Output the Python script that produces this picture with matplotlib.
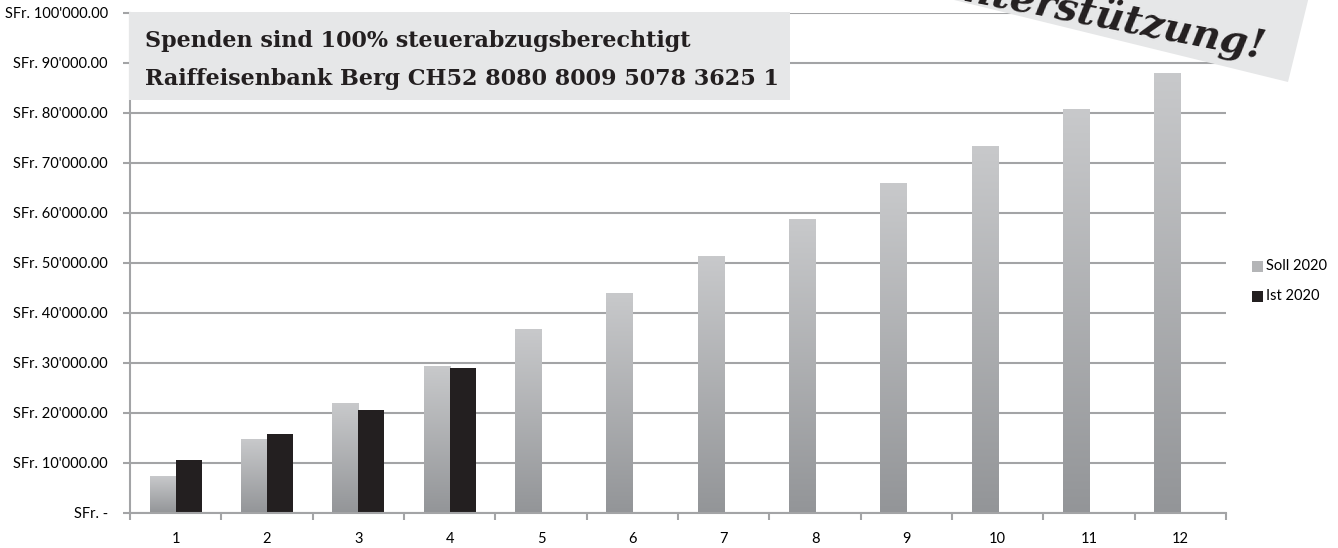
"""Soll/Ist Spendenstand 2020 als gruppiertes Balkendiagramm."""

import matplotlib
matplotlib.use("Agg")
import matplotlib.pyplot as plt
import numpy as np
from matplotlib.colors import LinearSegmentedColormap
from matplotlib.patches import Polygon, Rectangle
from matplotlib.ticker import FuncFormatter

months = list(range(1, 13))
soll_2020 = [7333, 14667, 22000, 29333, 36667, 44000, 51333, 58667, 66000, 73333, 80667, 88000]
ist_2020 = [10600, 15800, 20600, 29000]
series_names = ["Soll 2020", "Ist 2020"]
box_lines = [
    "Spenden sind 100% steuerabzugsberechtigt",
    "Raiffeisenbank Berg CH52 8080 8009 5078 3625 1",
]
banner_text = "Herzlichen Dank für Ihre Unterstützung!"

W, H = 1338, 548
plt.rcParams["font.family"] = ["Lato", "DejaVu Sans"]

fig = plt.figure(figsize=(W / 100, H / 100), dpi=100)
ax = fig.add_axes([130 / W, 35 / H, 1096 / W, 500 / H])

grid_col = "#a3a4a6"
soll_cmap = LinearSegmentedColormap.from_list("soll", ["#939598", "#c8c9cb"])
ist_col = "#231f20"
bw = 0.285

# Soll bars with a vertical grey gradient, Ist bars solid
grad = np.linspace(0, 1, 256).reshape(-1, 1)
for m, v in zip(months, soll_2020):
    ax.imshow(grad, extent=(m - bw, m, 0, v), aspect="auto", cmap=soll_cmap,
              origin="lower", zorder=2, interpolation="bilinear")
ax.bar([m + bw / 2 for m in months[:len(ist_2020)]], ist_2020, width=bw,
       color=ist_col, zorder=2)

ax.set_xlim(0.5, 12.5)
ax.set_ylim(0, 100000)
ax.set_yticks(np.arange(0, 100001, 10000))
ax.yaxis.set_major_formatter(FuncFormatter(
    lambda v, p: "SFr. -" if v == 0 else "SFr. " + f"{v:,.2f}".replace(",", "'")))
ax.set_xticks(months)
ax.set_xticks(np.arange(0.5, 13, 1), minor=True)
ax.tick_params(axis="x", which="major", length=0, pad=14, labelsize=10.5)
ax.tick_params(axis="x", which="minor", length=5, color=grid_col, width=1.5)
ax.tick_params(axis="y", length=5, color=grid_col, width=1.5, labelsize=10.5, pad=11)
ax.grid(axis="y", color=grid_col, linewidth=1.5, zorder=1)
ax.set_axisbelow(True)
for s in ["top", "right"]:
    ax.spines[s].set_visible(False)
for s in ["left", "bottom"]:
    ax.spines[s].set_color(grid_col)
    ax.spines[s].set_linewidth(1.5)

# legend
fig.patches.append(Rectangle((1252 / W, (548 - 272) / H), 11 / W, 11 / H,
                             transform=fig.transFigure, facecolor="#b4b5b7"))
fig.patches.append(Rectangle((1252 / W, (548 - 302) / H), 11 / W, 11 / H,
                             transform=fig.transFigure, facecolor=ist_col))
fig.text(1266 / W, (548 - 266) / H, series_names[0], va="center", fontsize=10.5)
fig.text(1266 / W, (548 - 296) / H, series_names[1], va="center", fontsize=10.5)

# info box top left
fig.patches.append(Rectangle((129 / W, (548 - 100) / H), 661 / W, 88 / H,
                             transform=fig.transFigure, facecolor="#e6e7e8", zorder=5))
fig.text(145 / W, (548 - 47) / H, box_lines[0], family="DejaVu Serif",
         weight="bold", fontsize=16, color="#231f20", zorder=6)
fig.text(145 / W, (548 - 85) / H, box_lines[1], family="DejaVu Serif",
         weight="bold", fontsize=16, color="#231f20", zorder=6)

# rotated thank-you banner top right
ang = np.deg2rad(13.8)
along = np.array([np.cos(ang), np.sin(ang)])      # image coords (y down)
up = np.array([np.sin(ang), -np.cos(ang)])
br = np.array([1288.0, 82.0])
bl = br - 900 * along
tr = br + 200 * up
tl = bl + 200 * up
pts = [(p[0] / W, (H - p[1]) / H) for p in [bl, br, tr, tl]]
fig.patches.append(Polygon(pts, closed=True, transform=fig.transFigure,
                           facecolor="#e6e7e8", zorder=5))
fig.text(1263 / W, (H - 58) / H, banner_text, family="DejaVu Serif",
         weight="bold", style="italic", fontsize=28.5, color="#231f20",
         rotation=-11, rotation_mode="anchor", ha="right", va="baseline", zorder=6)

fig.savefig("out.png", dpi=100)
